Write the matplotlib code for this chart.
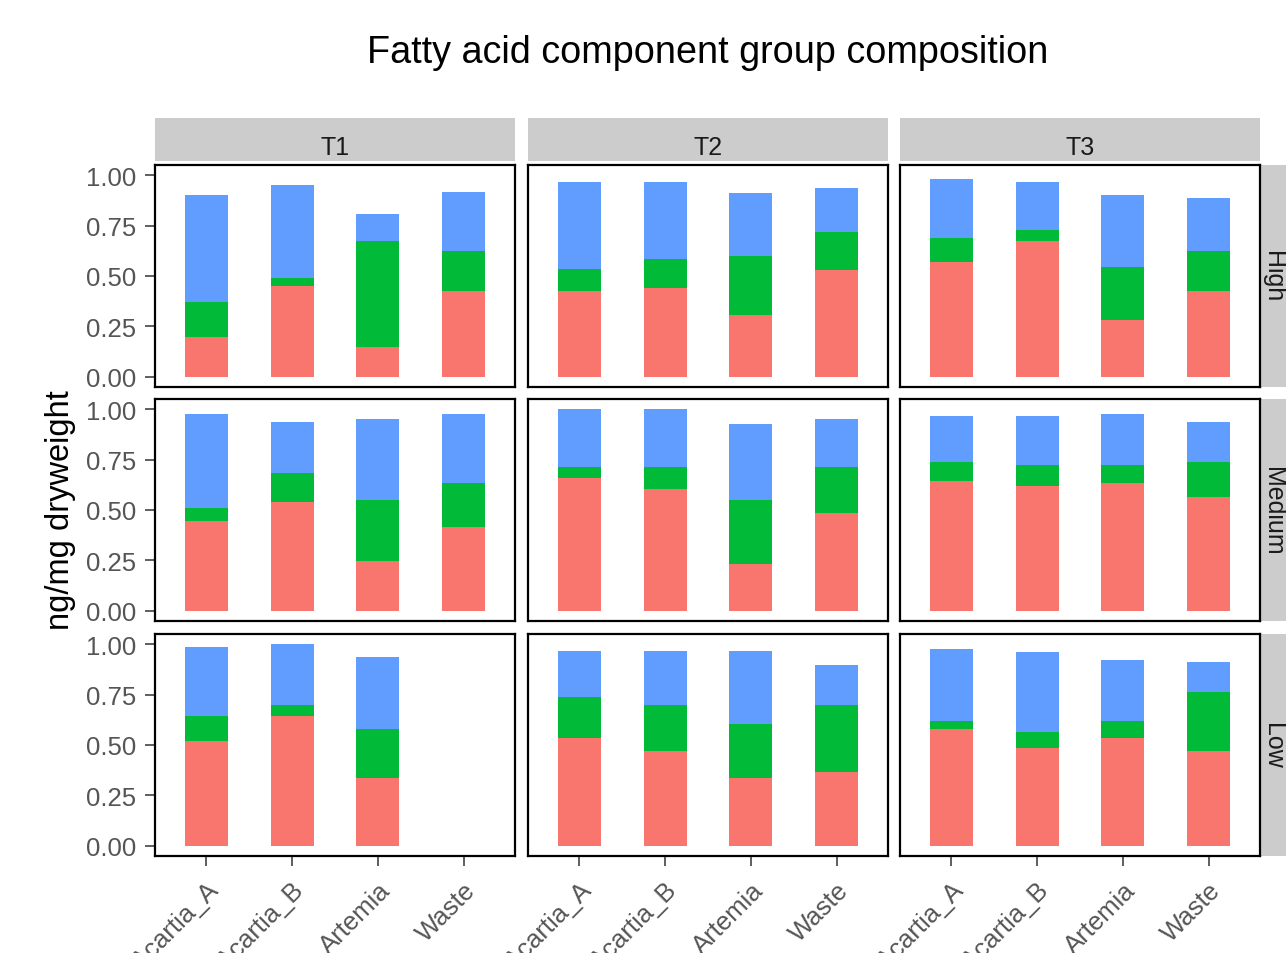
import matplotlib.pyplot as plt
import numpy as np

plt.rcParams['font.family'] = ['Liberation Sans', 'DejaVu Sans']

groups = ["Acartia_A", "Acartia_B", "Artemia", "Waste"]
times = ["T1", "T2", "T3"]
levels = ["High", "Medium", "Low"]

# one list per time point (T1, T2, T3), values per group
sfa_high = [[0.20, 0.45, 0.15, 0.425], [0.426, 0.439, 0.308, 0.531], [0.571, 0.675, 0.280, 0.426]]
mufa_high = [[0.17, 0.04, 0.525, 0.20], [0.107, 0.146, 0.291, 0.186], [0.118, 0.053, 0.264, 0.197]]
pufa_high = [[0.53, 0.46, 0.13, 0.29], [0.433, 0.381, 0.314, 0.221], [0.290, 0.238, 0.356, 0.262]]

sfa_medium = [[0.445, 0.539, 0.247, 0.418], [0.659, 0.605, 0.234, 0.486], [0.644, 0.619, 0.632, 0.566]]
mufa_medium = [[0.066, 0.146, 0.305, 0.214], [0.054, 0.108, 0.318, 0.227], [0.094, 0.106, 0.093, 0.172]]
pufa_medium = [[0.464, 0.250, 0.400, 0.343], [0.287, 0.287, 0.373, 0.239], [0.227, 0.240, 0.253, 0.199]]

sfa_low = [[0.522, 0.643, 0.338, 0.0], [0.537, 0.471, 0.338, 0.365], [0.577, 0.484, 0.537, 0.471]]
mufa_low = [[0.123, 0.055, 0.239, 0.0], [0.201, 0.227, 0.267, 0.333], [0.040, 0.080, 0.080, 0.293]]
pufa_low = [[0.343, 0.300, 0.360, 0.0], [0.227, 0.267, 0.360, 0.199], [0.360, 0.399, 0.306, 0.146]]

components = {
    "High": [sfa_high, mufa_high, pufa_high],
    "Medium": [sfa_medium, mufa_medium, pufa_medium],
    "Low": [sfa_low, mufa_low, pufa_low],
}
colours = ["#F8766D", "#00BA38", "#619CFF"]

W, H = 1286, 954
fig = plt.figure(figsize=(W / 100, H / 100), dpi=100, facecolor="white")


def box(left, top, width, height):
    return [left / W, 1 - (top + height) / H, width / W, height / H]


def strip(rect):
    sax = fig.add_axes(rect, facecolor="#CCCCCC")
    sax.set_xticks([])
    sax.set_yticks([])
    for s in sax.spines.values():
        s.set_visible(False)
    return sax


col_left = [155, 528, 900]
row_top = [166, 400, 635]
pw, ph = 360, 222

for j, t in enumerate(times):
    sax = strip(box(col_left[j], 119, pw, 43))
    sax.text(0.5, 0.33, t, ha="center", va="center", fontsize=18,
             color="#1A1A1A", transform=sax.transAxes)

for i, level in enumerate(levels):
    sax = strip(box(1260, row_top[i], 26, ph))
    sax.text(0.5, 0.5, level, ha="center", va="center", fontsize=18,
             rotation=-90, color="#1A1A1A", transform=sax.transAxes)

    for j, t in enumerate(times):
        ax = fig.add_axes(box(col_left[j], row_top[i], pw, ph))
        x = np.arange(len(groups))
        bottom = np.zeros(len(groups))
        for comp, colour in zip(components[level], colours):
            vals = np.array(comp[j])
            ax.bar(x, vals, 0.5, bottom=bottom, color=colour, linewidth=0)
            bottom += vals
        ax.set_xlim(-0.6, 3.6)
        ax.set_ylim(-0.05, 1.05)
        for s in ax.spines.values():
            s.set_linewidth(1.6)
            s.set_color("black")
        ax.tick_params(length=7.5, width=1.1, color="#333333",
                       labelsize=18.5, labelcolor="#555555", pad=6)
        ax.set_yticks([0, 0.25, 0.5, 0.75, 1.0])
        ax.set_xticks(x)
        if j == 0:
            ax.set_yticklabels(["%.2f" % v for v in [0, 0.25, 0.5, 0.75, 1.0]])
        else:
            ax.tick_params(left=False, labelleft=False)
        if i == 2:
            ax.set_xticklabels(groups, rotation=45, ha="right", va="top",
                               rotation_mode="anchor")
            ax.tick_params(axis="x", pad=8)
        else:
            ax.tick_params(bottom=False, labelbottom=False)

fig.text(708 / W, 1 - 53 / H, "Fatty acid component group composition",
         ha="center", va="center", fontsize=27.2, color="black")
fig.text(60 / W, 1 - 510 / H, "ng/mg dryweight", rotation=90,
         ha="center", va="center", fontsize=23.5, color="black")

plt.savefig("out.png", dpi=100)
plt.close()
